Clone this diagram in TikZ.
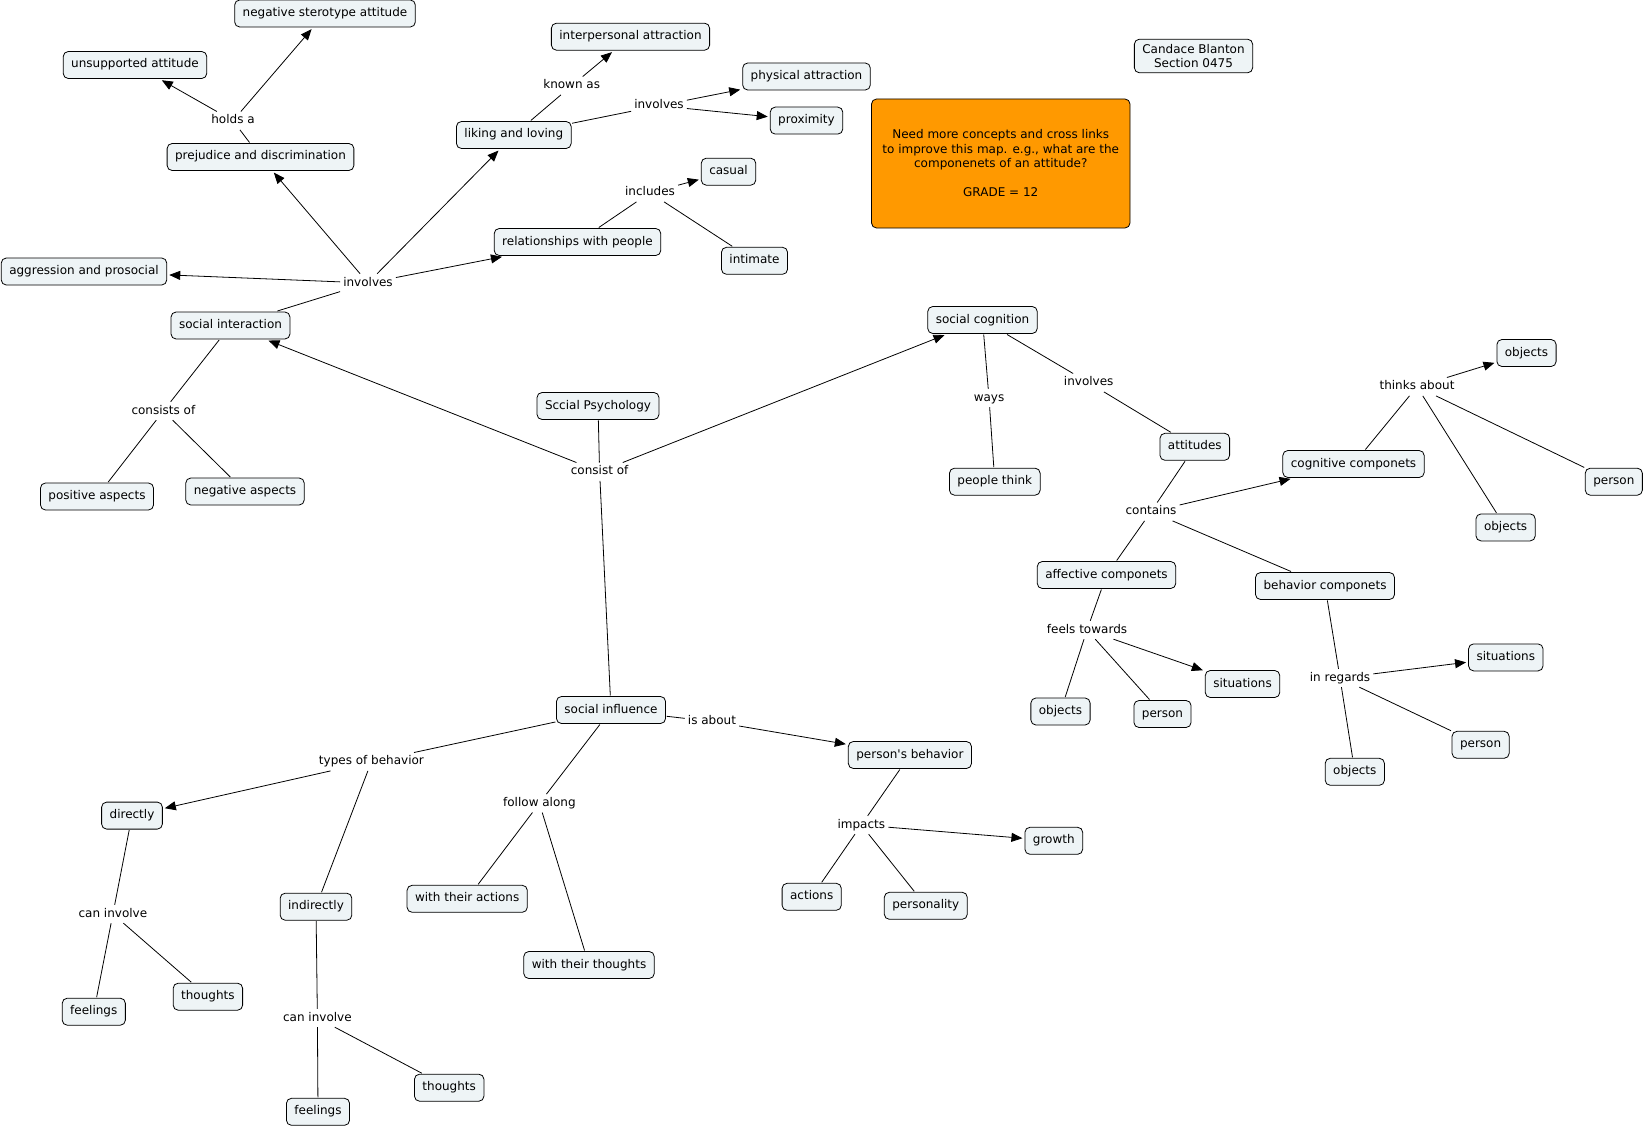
\documentclass[tikz,border=0pt]{standalone}
\usepackage{fontspec}
\setmainfont{DejaVu Sans}
\usetikzlibrary{arrows.meta}
\definecolor{boxfill}{RGB}{238,244,246}
\definecolor{notefill}{RGB}{255,153,0}
\tikzset{
  concept/.style={draw=black, rounded corners=5pt, fill=boxfill, line width=0.8pt,
    inner xsep=8pt, inner ysep=7.5pt, text height=9pt, text depth=3pt,
    font=\fontsize{12}{14}\selectfont, outer sep=1pt},
  lbl/.style={inner xsep=3pt, inner ysep=3pt, text height=9pt, text depth=3pt,
    font=\fontsize{12}{14}\selectfont},
  link/.style={line width=0.8pt},
  arr/.style={line width=0.8pt, -{Triangle[length=11pt,width=9pt]}, shorten >=1.5pt}
}
\begin{document}
\begin{tikzpicture}[x=1pt,y=-1pt]
\useasboundingbox[fill=white] (0,0) rectangle (1644,1129);
% concepts
\node[concept] (nsa) at (325,13.5) {negative sterotype attitude};
\node[concept] (ua) at (135,65) {unsupported attitude};
\node[concept] (pd) at (260.5,157) {prejudice and discrimination};
\node[concept] (ap) at (84,271.5) {aggression and prosocial};
\node[concept] (ll) at (513.8,135) {liking and loving};
\node[concept] (ia) at (630.5,36.7) {interpersonal attraction};
\node[concept] (pa) at (806.5,76.5) {physical attraction};
\node[concept] (prox) at (806.5,120.6) {proximity};
\node[concept] (cas) at (728.5,171.7) {casual};
\node[concept] (rwp) at (577.5,242) {relationships with people};
\node[concept] (intim) at (754.5,260.8) {intimate};
\node[concept] (si) at (230.5,325.5) {social interaction};
\node[concept] (pos) at (97,496.5) {positive aspects};
\node[concept] (neg) at (245,491.5) {negative aspects};
\node[concept] (sp) at (598,406) {Sccial Psychology};
\node[concept] (sc) at (982.5,320) {social cognition};
\node[concept] (pt) at (994.8,481.7) {people think};
\node[concept] (att) at (1194.8,446.8) {attitudes};
\node[concept] (cc) at (1353.5,464) {cognitive componets};
\node[concept] (obja) at (1526.5,353) {objects};
\node[concept] (pera) at (1613.8,481.7) {person};
\node[concept] (objb) at (1505.6,527.4) {objects};
\node[concept] (ac) at (1106.5,575) {affective componets};
\node[concept] (bc) at (1325,586) {behavior componets};
\node[concept] (sita) at (1242.5,684) {situations};
\node[concept] (objc) at (1060.5,711.5) {objects};
\node[concept] (perb) at (1162.5,714) {person};
\node[concept] (sitb) at (1505.8,657.4) {situations};
\node[concept] (perc) at (1480.6,744.8) {person};
\node[concept] (objd) at (1354.8,771.8) {objects};
\node[concept] (sinf) at (611,710) {social influence};
\node[concept] (pb) at (909.9,755) {person\textquotesingle s behavior};
\node[concept] (gr) at (1053.8,840.8) {growth};
\node[concept] (act) at (811.7,896.8) {actions};
\node[concept] (pers) at (925.8,905.8) {personality};
\node[concept] (dir) at (132,815.6) {directly};
\node[concept] (ind) at (316,906.7) {indirectly};
\node[concept] (wta) at (467.2,898.8) {with their actions};
\node[concept] (wtt) at (589,965) {with their thoughts};
\node[concept] (fla) at (93.8,1011.7) {feelings};
\node[concept] (tha) at (207.9,996.7) {thoughts};
\node[concept] (thb) at (449.2,1087.7) {thoughts};
\node[concept] (flb) at (318,1111.8) {feelings};
\node[concept, align=center, text height=, text depth=, inner ysep=5pt,
  font=\fontsize{12}{14.3}\selectfont] (cb) at (1193.5,56) {Candace Blanton\\Section 0475};
\node[draw=black, rounded corners=5pt, fill=notefill, line width=0.8pt,
  minimum width=258.5pt, minimum height=129pt, align=center,
  font=\fontsize{12}{14.5}\selectfont] (note) at (1000.75,163.5)
  {Need more concepts and cross links\\to improve this map. e.g., what are the\\componenets of an attitude?\\\mbox{}\\GRADE = 12};
% labels
\node[lbl] (lholds) at (233,120.7) {holds a};
\node[lbl] (lknown) at (571.7,85.7) {known as};
\node[lbl] (linvb) at (659,105.7) {involves};
\node[lbl] (lincl) at (650,192.7) {includes};
\node[lbl] (linva) at (368,283) {involves};
\node[lbl] (lcons) at (163.4,411) {consists of};
\node[lbl] (lconsist) at (599.6,471.7) {consist of};
\node[lbl] (lways) at (989,398) {ways};
\node[lbl] (linvc) at (1088.7,382.7) {involves};
\node[lbl] (lthinks) at (1417,386.7) {thinks about};
\node[lbl] (lcont) at (1151,511.7) {contains};
\node[lbl] (lfeels) at (1087,630) {feels towards};
\node[lbl] (lregards) at (1340,678) {in regards};
\node[lbl] (labout) at (712,721.4) {is about};
\node[lbl] (ltypes) at (371.4,761.7) {types of behavior};
\node[lbl] (lfollow) at (539.4,803.3) {follow along};
\node[lbl] (limpacts) at (861.3,825) {impacts};
\node[lbl] (lcana) at (112.9,914) {can involve};
\node[lbl] (lcanb) at (317.4,1018) {can involve};
% connectors
\draw[link] (pd) -- (lholds);
\draw[arr] (lholds) -- (ua);
\draw[arr] (lholds) -- (nsa);
\draw[link] (si) -- (linva);
\draw[arr] (linva) -- (ap);
\draw[arr] (linva) -- (pd);
\draw[arr] (linva) -- (ll);
\draw[arr] (linva) -- (rwp);
\draw[link] (ll) -- (lknown);
\draw[arr] (lknown) -- (ia);
\draw[link] (ll) -- (linvb);
\draw[arr] (linvb) -- (pa);
\draw[arr] (linvb) -- (prox);
\draw[link] (rwp) -- (lincl);
\draw[arr] (lincl) -- (cas);
\draw[link] (lincl) -- (intim);
\draw[link] (si) -- (lcons);
\draw[link] (lcons) -- (pos);
\draw[link] (lcons) -- (neg);
\draw[link] (sp) -- (lconsist);
\draw[arr] (lconsist) -- (si);
\draw[arr] (lconsist) -- (sc);
\draw[link] (lconsist) -- (sinf);
\draw[link] (sc) -- (lways);
\draw[link] (lways) -- (pt);
\draw[link] (sc) -- (linvc);
\draw[link] (linvc) -- (att);
\draw[link] (att) -- (lcont);
\draw[arr] (lcont) -- (cc);
\draw[link] (lcont) -- (ac);
\draw[link] (lcont) -- (bc);
\draw[link] (cc) -- (lthinks);
\draw[arr] (lthinks) -- (obja);
\draw[link] (lthinks) -- (objb);
\draw[link] (lthinks) -- (pera);
\draw[link] (ac) -- (lfeels);
\draw[link] (lfeels) -- (objc);
\draw[link] (lfeels) -- (perb);
\draw[arr] (lfeels) -- (sita);
\draw[link] (bc) -- (lregards);
\draw[arr] (lregards) -- (sitb);
\draw[link] (lregards) -- (perc);
\draw[link] (lregards) -- (objd);
\draw[link] (sinf) -- (labout);
\draw[arr] (labout) -- (pb);
\draw[link] (pb) -- (limpacts);
\draw[arr] (limpacts) -- (gr);
\draw[link] (limpacts) -- (act);
\draw[link] (limpacts) -- (pers);
\draw[link] (sinf) -- (ltypes);
\draw[arr] (ltypes) -- (dir);
\draw[link] (ltypes) -- (ind);
\draw[link] (sinf) -- (lfollow);
\draw[link] (lfollow) -- (wta);
\draw[link] (lfollow) -- (wtt);
\draw[link] (dir) -- (lcana);
\draw[link] (lcana) -- (fla);
\draw[link] (lcana) -- (tha);
\draw[link] (ind) -- (lcanb);
\draw[link] (lcanb) -- (flb);
\draw[link] (lcanb) -- (thb);
\end{tikzpicture}
\end{document}
